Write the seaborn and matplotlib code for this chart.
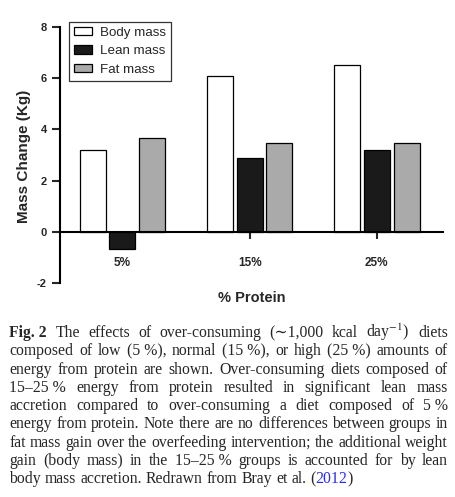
import pandas as pd
import numpy as np
import matplotlib
matplotlib.use("Agg")
import matplotlib.pyplot as plt
import seaborn as sns

# ---- data ----
protein = ["5%", "15%", "25%"]
tissues = ["Body mass", "Lean mass", "Fat mass"]
body_mass = [3.18, 6.07, 6.50]
lean_mass = [-0.69, 2.88, 3.18]
fat_mass = [3.65, 3.45, 3.45]
yticks = [-2, 0, 2, 4, 6, 8]

caption_lines = [
    "Fig._2 The effects of over-consuming (\u223c1,000 kcal day$^{-1}$) diets",
    "composed of low (5_%), normal (15_%), or high (25_%) amounts of",
    "energy from protein are shown. Over-consuming diets composed of",
    "15\u201325_% energy from protein resulted in significant lean mass",
    "accretion compared to over-consuming a diet composed of 5_%",
    "energy from protein. Note there are no differences between groups in",
    "fat mass gain over the overfeeding intervention; the additional weight",
    "gain (body mass) in the 15\u201325_% groups is accounted for by lean",
    "body mass accretion. Redrawn from Bray et al. (2012)",
]

df = pd.DataFrame({
    "protein": np.repeat(protein, 3),
    "tissue": tissues * 3,
    "change": np.array([body_mass, lean_mass, fat_mass]).T.ravel(),
})

sns.set_style("white")
plt.rcParams["font.family"] = ["Liberation Sans", "DejaVu Sans"]
plt.rcParams["mathtext.fontset"] = "stix"

fig = plt.figure(figsize=(4.56, 4.97), dpi=100)
ax = fig.add_axes([60 / 456, 1 - 283 / 497, 383 / 456, 256 / 497])

palette = {"Body mass": "white", "Lean mass": "#1a1a1a", "Fat mass": "#aaaaaa"}
sns.barplot(data=df, x="protein", y="change", hue="tissue", palette=palette,
            width=0.7, gap=0.125, edgecolor="black", linewidth=0.9, ax=ax,
            saturation=1)

# spines first: moving a spine resets the ticks
for s in ["top", "right"]:
    ax.spines[s].set_visible(False)
ax.spines["bottom"].set_position(("data", 0))
ax.spines["bottom"].set_linewidth(1.5)
ax.spines["left"].set_linewidth(1.5)
ax.spines["bottom"].set_color("black")
ax.spines["left"].set_color("black")
ax.tick_params(axis="y", direction="out", length=6, width=1.5, pad=3.6, left=True)
ax.tick_params(axis="x", direction="out", length=5, width=1.5, pad=13, bottom=True)

ax.set_ylim(-2, 8)
ax.set_xlim(-0.49, 2.52)
ax.set_yticks(yticks)
ax.set_yticklabels([str(t) for t in yticks], fontweight="bold", fontsize=8)
ax.set_xticks(range(len(protein)))
ax.set_xticklabels(protein, fontweight="bold", fontsize=8.5)

ax.set_ylabel("Mass Change (Kg)", fontweight="bold", fontsize=11)
ax.yaxis.set_label_coords(-0.076, 0.496)
ax.set_xlabel("% Protein", fontweight="bold", fontsize=10.5)
ax.xaxis.set_label_coords(0.5, -0.032)

handles, labels = ax.get_legend_handles_labels()
leg = ax.legend(handles, labels, loc="upper left", bbox_to_anchor=(0.0235, 1.02),
                borderaxespad=0, frameon=True, fancybox=False, fontsize=9.6,
                handlelength=1.4, handleheight=0.6, labelspacing=0.5,
                handletextpad=0.6, borderpad=0.35)
leg.get_frame().set_edgecolor("black")
leg.get_frame().set_linewidth(0.9)

# ---- caption, justified line by line ----
serif = ["Liberation Serif", "DejaVu Serif"]
cap_size = 11.3
left_px, right_px = 9.5, 448
renderer = fig.canvas.get_renderer()


def word_parts(word, first_line):
    word = word.replace("_", " ")
    if first_line and word == "Fig. 2":
        return [(word, {"fontweight": "bold"})]
    if word == "(2012)":
        return [("(", {}), ("2012", {"color": "#2a2aff"}), (")", {})]
    return [(word, {})]


def measure(s, props):
    t = fig.text(0, 0, s, fontsize=cap_size, family=serif, **props)
    w = t.get_window_extent(renderer).width
    t.remove()
    return w


space_w = measure("a a", {}) - measure("aa", {})

for i, line in enumerate(caption_lines):
    words = [word_parts(w, i == 0) for w in line.split(" ")]
    widths = [[measure(s, p) for s, p in w] for w in words]
    total = sum(sum(ws) for ws in widths)
    if i < len(caption_lines) - 1:
        gap = (right_px - left_px - total) / (len(words) - 1)
    else:
        gap = space_w
    y_px = 337 + 18.3 * i
    x = left_px
    for w, ws in zip(words, widths):
        for (s, p), wd in zip(w, ws):
            fig.text(x / 456, 1 - y_px / 497, s, fontsize=cap_size, family=serif,
                     va="baseline", ha="left", **p)
            x += wd
        x += gap

fig.savefig("out.png", dpi=100)
